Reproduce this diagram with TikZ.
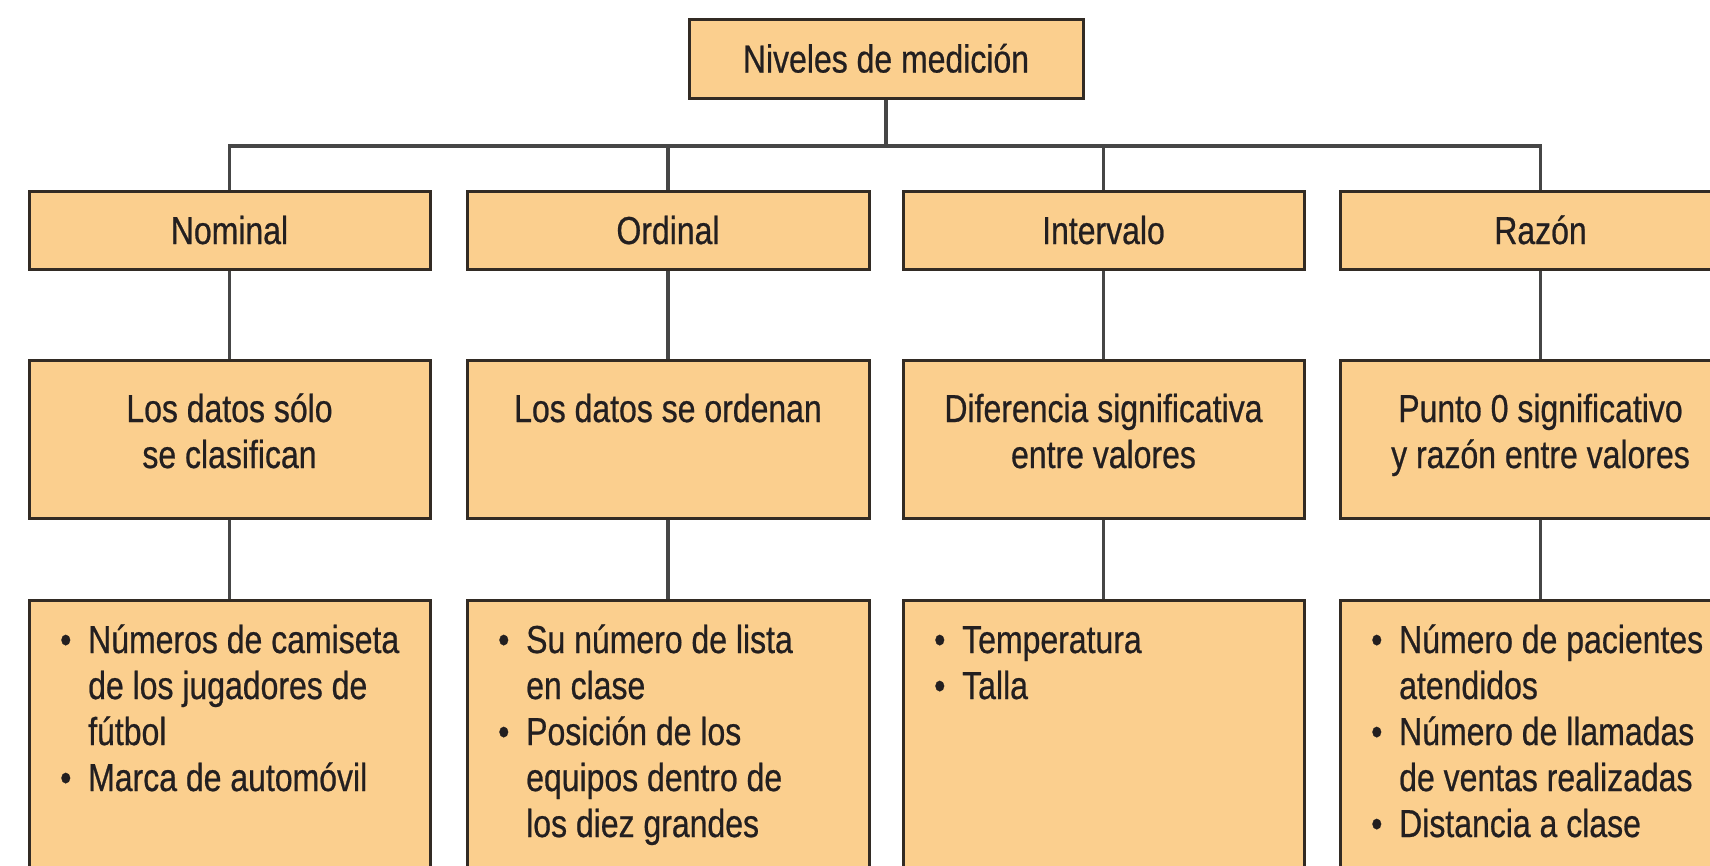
\documentclass[tikz,border=0pt]{standalone}
\usepackage{fontspec}
\setmainfont{Liberation Sans}[FakeStretch=0.82,FakeBold=0.6]
\definecolor{boxfill}{RGB}{251,207,142}
\definecolor{boxline}{RGB}{50,43,36}
\definecolor{wirecol}{RGB}{70,70,70}
\definecolor{txt}{RGB}{35,31,32}
\newcommand{\itm}{\makebox[30pt][l]{\hspace{2pt}\textbullet}}
\newcommand{\cnt}{\hspace*{30pt}}
\begin{document}
\begin{tikzpicture}[x=1pt,y=1pt,
  box/.style={draw=boxline, line width=3pt, fill=boxfill, inner sep=0pt, text=txt,
    font=\fontsize{39}{46}\selectfont, text height=28pt, text depth=0pt},
  lbl/.style={inner sep=0pt, text=txt, font=\fontsize{39}{46}\selectfont},
  wire/.style={draw=wirecol, line width=3.5pt}]
\useasboundingbox (0,0) rectangle (1710,-865);
\clip (0,0) rectangle (1710,-865);
% top
\node[box, minimum width=394pt, minimum height=79pt] (top) at (886,-58.5) {Niveles de medición};
% row 2
\node[box, minimum width=401pt, minimum height=78pt] (nom) at (229.5,-230) {Nominal};
\node[box, minimum width=402pt, minimum height=78pt] (ord) at (668,-230) {Ordinal};
\node[box, minimum width=401pt, minimum height=78pt] (int) at (1103.5,-230) {Intervalo};
\node[box, minimum width=401pt, minimum height=78pt] (raz) at (1540.5,-230) {Razón};
% row 3
\node[box, minimum width=401pt, minimum height=158pt] (nomd) at (229.5,-439) {};
\node[box, minimum width=402pt, minimum height=158pt] (ordd) at (668,-439) {};
\node[box, minimum width=401pt, minimum height=158pt] (intd) at (1103.5,-439) {};
\node[box, minimum width=401pt, minimum height=158pt] (razd) at (1540.5,-439) {};
% row 4
\node[box, minimum width=401pt, minimum height=290pt] (nome) at (229.5,-745) {};
\node[box, minimum width=402pt, minimum height=290pt] (orde) at (668,-745) {};
\node[box, minimum width=401pt, minimum height=290pt] (inte) at (1103.5,-745) {};
\node[box, minimum width=401pt, minimum height=290pt] (raze) at (1540.5,-745) {};
% texts row 3
\node[lbl, anchor=base] (tnomd) at (229.5,-422) {\begin{tabular}[t]{@{}c@{}}Los datos sólo\\se clasifican\end{tabular}};
\node[lbl, anchor=base] (tordd) at (668,-422) {\begin{tabular}[t]{@{}c@{}}Los datos se ordenan\end{tabular}};
\node[lbl, anchor=base] (tintd) at (1103.5,-422) {\begin{tabular}[t]{@{}c@{}}Diferencia significativa\\entre valores\end{tabular}};
\node[lbl, anchor=base] (trazd) at (1540.5,-422) {\begin{tabular}[t]{@{}c@{}}Punto 0 significativo\\y razón entre valores\end{tabular}};
% texts row 4
\node[lbl, anchor=base west] (tnome) at (58,-653) {\begin{tabular}[t]{@{}l@{}}\itm Números de camiseta\\\cnt de los jugadores de\\\cnt fútbol\\\itm Marca de automóvil\end{tabular}};
\node[lbl, anchor=base west] (torde) at (496,-653) {\begin{tabular}[t]{@{}l@{}}\itm Su número de lista\\\cnt en clase\\\itm Posición de los\\\cnt equipos dentro de\\\cnt los diez grandes\end{tabular}};
\node[lbl, anchor=base west] (tinte) at (932,-653) {\begin{tabular}[t]{@{}l@{}}\itm Temperatura\\\itm Talla\end{tabular}};
\node[lbl, anchor=base west] (traze) at (1369,-653) {\begin{tabular}[t]{@{}l@{}}\itm Número de pacientes\\\cnt atendidos\\\itm Número de llamadas\\\cnt de ventas realizadas\\\itm Distancia a clase\end{tabular}};
% connectors
\coordinate (bus) at (886,-146);
\draw[wire] (top.south) -- (bus);
\draw[wire] (nom.north) |- (bus);
\draw[wire] (ord.north) |- (bus);
\draw[wire] (int.north) |- (bus);
\draw[wire] (raz.north) |- (bus);
\draw[wire] (nom.south) -- (nomd.north);
\draw[wire] (ord.south) -- (ordd.north);
\draw[wire] (int.south) -- (intd.north);
\draw[wire] (raz.south) -- (razd.north);
\draw[wire] (nomd.south) -- (nome.north);
\draw[wire] (ordd.south) -- (orde.north);
\draw[wire] (intd.south) -- (inte.north);
\draw[wire] (razd.south) -- (raze.north);
\end{tikzpicture}
\end{document}
